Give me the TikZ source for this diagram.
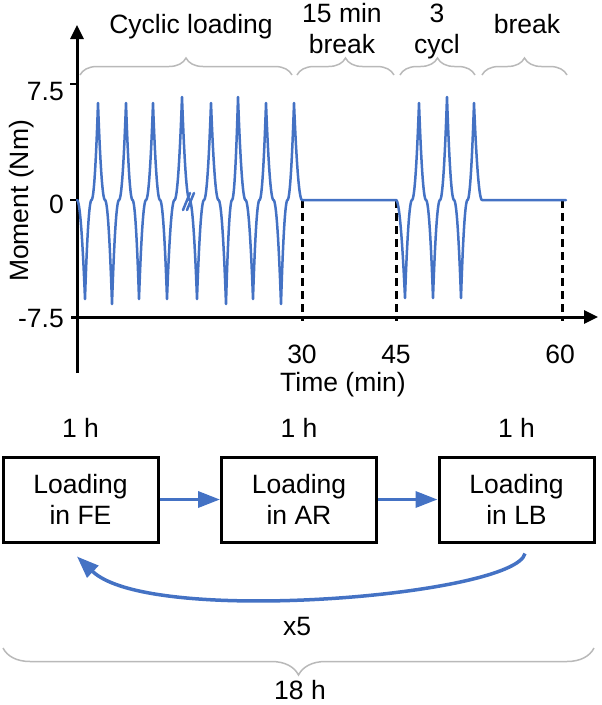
\documentclass[tikz,border=0pt]{standalone}
\usepackage{fontspec}
\setmainfont{Liberation Sans}
\usetikzlibrary{arrows.meta,decorations.pathreplacing,calc}
\definecolor{wblue}{RGB}{68,114,196}
\definecolor{bracegray}{RGB}{185,185,185}
\begin{document}
\begin{tikzpicture}[x=1pt,y=-1pt,
  lbl/.style={font=\fontsize{26.5}{31}\selectfont, inner sep=0pt, align=center},
  axisline/.style={line width=3pt, -{Triangle[length=14pt,width=13pt]}},
  tickmark/.style={line width=2.5pt},
  wave/.style={wblue, line width=2.5pt, line join=round, line cap=round},
  guide/.style={line width=3pt, dash pattern=on 8pt off 5pt},
  brc/.style={bracegray, line width=1.5pt, decorate, decoration={brace, amplitude=#1}},
  stepbox/.style={lbl, draw, line width=3pt, minimum width=155pt, minimum height=85pt},
  flow/.style={wblue, line width=3.5pt, -{Triangle[length=22pt,width=16pt]}},
]
\useasboundingbox (0,0) rectangle (602,705);

% axes
\coordinate (yb) at (77,373);
\coordinate (yt) at (77,25);
\coordinate (xl) at (71,317);
\coordinate (xr) at (598,317);
\draw[axisline] (yb) -- (yt);
\draw[axisline] (xl) -- (xr);
\draw[tickmark] (70,84) -- (77,84);
\draw[tickmark] (70,200) -- (77,200);

% tick labels
\node[lbl, anchor=base east] (t75) at (64,100) {7.5};
\node[lbl, anchor=base east] (t0) at (64,213) {0};
\node[lbl, anchor=base east] (tm75) at (64,327) {-7.5};
\node[lbl, rotate=90, anchor=base] (ylab) at (28,201) {Moment (Nm)};

% dashed guides
\coordinate (d30t) at (302,200); \coordinate (d30b) at (302,321);
\coordinate (d45t) at (396,200); \coordinate (d45b) at (396,321);
\coordinate (d60t) at (562,200); \coordinate (d60b) at (562,321);
\draw[guide] (d30t) -- (d30b);
\draw[guide] (d45t) -- (d45b);
\draw[guide] (d60t) -- (d60b);

\node[lbl, anchor=base] (l30) at (302,363) {30};
\node[lbl, anchor=base] (l45) at (396,363) {45};
\node[lbl, anchor=base] (l60) at (560,363) {60};
\node[lbl, anchor=base] (tlab) at (343,391) {Time (min)};

% top labels and braces
\node[lbl, anchor=base] (cyc) at (191,33) {Cyclic loading};
\node[lbl, anchor=base] (brk1) at (342,53) {15 min\\break};
\node[lbl, anchor=base] (c3) at (437,53) {3\\cycl};
\node[lbl, anchor=base] (brk2) at (527,33) {break};
\draw[brc=17pt] (80,75) -- (292,75);
\draw[brc=17pt] (297,75) -- (394,75);
\draw[brc=17pt] (400,75) -- (475,75);
\draw[brc=17pt] (482,75) -- (567,75);

% waveform
\draw[wave] (77,200)
  -- plot[domain=0:1, samples=16, variable=\s] ({77+8*\s},{200+99*\s*\s})
  \foreach \xa/\ya/\xb/\yb in {85/299/98/103, 98/103/112/304, 112/304/126/103, 126/103/139/299,
     139/299/153/103, 153/103/167/299, 167/299/182/97, 182/97/197/299, 197/299/211/103,
     211/103/226/304, 226/304/238/97, 238/97/253/299, 253/299/266/103, 266/103/281/304,
     281/304/294/103} {
    -- plot[domain=-1:0, samples=16, variable=\s] ({(\xa+\xb)/2+\s*(\xb-\xa)/2},{200+(\ya-200)*\s*\s})
    -- plot[domain=0:1, samples=16, variable=\s] ({(\xa+\xb)/2+\s*(\xb-\xa)/2},{200+(\yb-200)*\s*\s})
  }
  -- plot[domain=-1:0, samples=16, variable=\s] ({302+8*\s},{200-97*\s*\s})
  -- (396,200)
  -- plot[domain=0:1, samples=16, variable=\s] ({396+9*\s},{200+98*\s*\s})
  \foreach \xa/\ya/\xb/\yb in {405/298/419/103, 419/103/433/298, 433/298/447/97,
     447/97/461/298, 461/298/474/103} {
    -- plot[domain=-1:0, samples=16, variable=\s] ({(\xa+\xb)/2+\s*(\xb-\xa)/2},{200+(\ya-200)*\s*\s})
    -- plot[domain=0:1, samples=16, variable=\s] ({(\xa+\xb)/2+\s*(\xb-\xa)/2},{200+(\yb-200)*\s*\s})
  }
  -- plot[domain=-1:0, samples=16, variable=\s] ({482+8*\s},{200-97*\s*\s})
  -- (566,200);
\draw[wave] (183,210) -- (190,193);
\draw[wave] (187,210) -- (194,193);

% flow part
\node[stepbox] (fe) at (80.5,499.5) {Loading\\in FE};
\node[stepbox] (ar) at (299,499.5) {Loading\\in AR};
\node[stepbox] (lb) at (516.5,499.5) {Loading\\in LB};
\node[lbl, anchor=base] (h1) at (80.5,437) {1 h};
\node[lbl, anchor=base] (h2) at (299,437) {1 h};
\node[lbl, anchor=base] (h3) at (516.5,437) {1 h};
\draw[flow] (fe) -- (ar);
\draw[flow] (ar) -- (lb);
\coordinate (loopS) at ($(lb.south)+(8.5,10)$);
\coordinate (loopE) at ($(fe.south)+(-3.5,13)$);
\draw[flow] (loopS) .. controls +(-10,42) and +(73,70) .. (loopE);
\node[lbl] (x5) at (297,627) {x5};
\draw[brc=27pt] (594,648) -- (3,648);
\node[lbl] (h18) at (300,690) {18 h};
\end{tikzpicture}
\end{document}
